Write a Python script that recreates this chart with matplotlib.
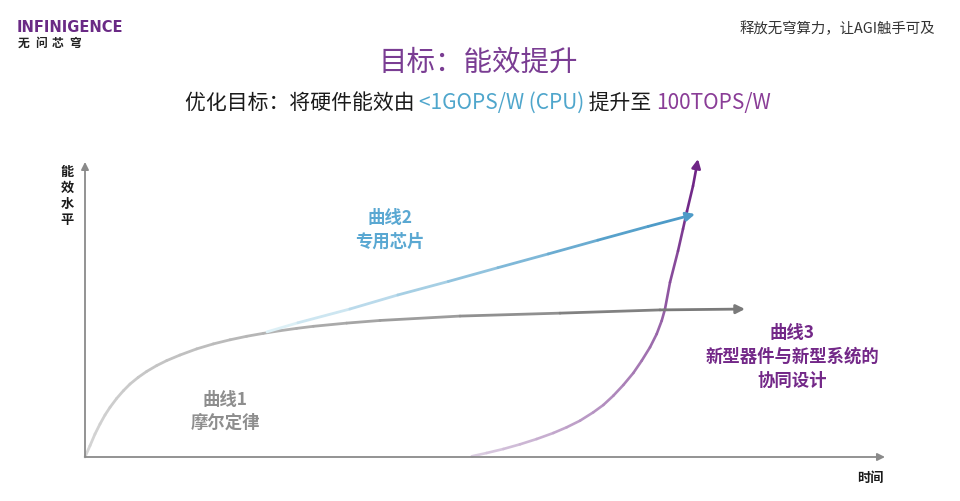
import numpy as np
import matplotlib
matplotlib.use('Agg')
import matplotlib.pyplot as plt
from matplotlib.collections import LineCollection
from matplotlib.colors import LinearSegmentedColormap

plt.rcParams['font.family'] = ['Noto Sans CJK SC', 'DejaVu Sans']

# curve readings (time 0..100, level 0..100)
moore_t = [0, 0.625, 1.25, 1.875, 2.5, 3.125, 3.96, 4.79, 5.625, 6.66, 7.71, 8.96,
           10.21, 11.875, 13.96, 16.04, 18.125, 20.21, 22.29, 24.375, 26.46, 28.54,
           32.71, 36.875, 46.875, 59.375, 71.875, 82.5]
moore_v = [0, 3.86, 7.85, 11.26, 14.33, 16.95, 20.0, 22.6, 24.9, 27.2, 29.2, 31.2,
           32.9, 34.8, 36.9, 38.6, 40.0, 41.2, 42.2, 43.1, 43.9, 44.6,
           45.7, 46.6, 48.1, 49.1, 50.2, 50.5]

asic_t = [22.75, 26.6, 33.1, 39.1, 45.4, 51.6, 57.9, 64.1, 70.4, 76.25]
asic_v = [42.7, 45.8, 50.5, 55.3, 59.9, 64.6, 69.3, 74.0, 78.7, 82.9]

codesign_t = [48.34, 50.21, 52.29, 54.375, 56.46, 58.54, 60.21, 61.875, 63.54, 64.79,
              66.04, 67.29, 68.54, 69.59, 70.625, 71.46, 72.09, 72.5, 73.125, 74.125,
              74.75, 75.25, 76.0, 76.625]
codesign_v = [0.24, 1.37, 2.73, 4.33, 6.14, 8.19, 10.14, 12.39, 15.26, 17.75,
              20.92, 24.57, 28.67, 32.87, 37.44, 41.98, 46.52, 50.51, 59.62, 70.31,
              77.82, 83.96, 92.49, 101.7]

labels = {
    'moore': ['曲线1', '摩尔定律'],
    'asic': ['曲线2', '专用芯片'],
    'codesign': ['曲线3', '新型器件与新型系统的', '协同设计'],
}

W, H = 960, 502
fig = plt.figure(figsize=(W / 100, H / 100), dpi=100)
fig.patch.set_facecolor('white')


def fp(x, y):
    # pixel position -> figure fraction
    return x / W, 1 - y / H


# chart axes
x0, x1, ytop, ybot = 85, 885, 165, 458
ax = fig.add_axes([x0 / W, 1 - ybot / H, (x1 - x0) / W, (ybot - ytop) / H])
ax.set_xlim(0, 100)
ax.set_ylim(0, 100)
ax.axis('off')

# axis arrows
for end in [(0, 100.7), (100, 0)]:
    ax.annotate('', xy=end, xytext=(0, 0), annotation_clip=False,
                arrowprops=dict(arrowstyle='-|>', color='#8a8a8a', lw=1.3,
                                mutation_scale=11, shrinkA=0, shrinkB=0))


def gradient_curve(t, v, c_start, c_end, lw):
    cmap = LinearSegmentedColormap.from_list('g', [c_start, c_end])
    pts = np.column_stack([t, v])
    segs = np.stack([pts[:-2], pts[1:-1]], axis=1)
    # colour by distance along the curve on screen
    disp = ax.transData.transform(pts[:-1])
    d = np.concatenate([[0], np.cumsum(np.hypot(*np.diff(disp, axis=0).T))])
    mid = (d[:-1] + d[1:]) / 2 / d[-1]
    lc = LineCollection(segs, colors=cmap(mid), linewidths=lw,
                        capstyle='round', joinstyle='round', clip_on=False)
    ax.add_collection(lc)
    ax.annotate('', xy=(t[-1], v[-1]), xytext=(t[-2], v[-2]), annotation_clip=False,
                arrowprops=dict(arrowstyle='-|>', color=c_end, lw=lw,
                                mutation_scale=13, shrinkA=0, shrinkB=0))


gradient_curve(moore_t, moore_v, '#d6d6d6', '#7a7a7a', 2.0)
gradient_curve(asic_t, asic_v, '#e3f3f8', '#4e9bc8', 2.0)
gradient_curve(codesign_t, codesign_v, '#dccfe2', '#6f2586', 1.9)

# header
fig.text(*fp(17, 27), 'INFINIGENCE', fontsize=10.5, fontweight='heavy',
         color='#6a2a85', family='DejaVu Sans', va='center', ha='left')
for i, ch in enumerate('无问芯穹'):
    fig.text(*fp(24 + i * 17, 43), ch, fontsize=8.5, fontweight='bold',
             color='#222222', va='center', ha='center')
fig.text(*fp(935, 29), '释放无穹算力，让AGI触手可及', fontsize=10.4,
         color='#333333', va='center', ha='right')

fig.text(*fp(478, 63), '目标：能效提升', fontsize=20.5, color='#7a3d93',
         va='center', ha='center')

# subtitle in coloured pieces
pieces = [('优化目标：将硬件能效由 ', '#1a1a1a'), ('<1GOPS/W (CPU)', '#4fa6cc'),
          (' 提升至 ', '#1a1a1a'), ('100TOPS/W', '#8a3d97')]
renderer = fig.canvas.get_renderer()
objs, widths = [], []
for s, c in pieces:
    t = fig.text(0, 0, s, fontsize=15, color=c, va='center', ha='left')
    objs.append(t)
    widths.append(t.get_window_extent(renderer).width)
xs = 478 - sum(widths) / 2
for t, w in zip(objs, widths):
    t.set_position(fp(xs, 103))
    xs += w

# axis titles
for i, ch in enumerate('能效水平'):
    fig.text(*fp(67, 172 + i * 16), ch, fontsize=9.5, fontweight='bold',
             color='#1a1a1a', va='center', ha='center')
fig.text(*fp(870, 478), '时间', fontsize=9.5, fontweight='bold',
         color='#1a1a1a', va='center', ha='center')

# curve labels
for i, s in enumerate(labels['asic']):
    fig.text(*fp(390, 218 + i * 24), s, fontsize=12.5, fontweight='bold',
             color='#5aa8d2', va='center', ha='center')
for i, s in enumerate(labels['moore']):
    fig.text(*fp(225, 400 + i * 23), s, fontsize=12.5, fontweight='bold',
             color='#8e8e8e', va='center', ha='center')
for i, s in enumerate(labels['codesign']):
    fig.text(*fp(792, 333 + i * 24), s, fontsize=12.5, fontweight='bold',
             color='#732888', va='center', ha='center')

fig.savefig('out.png', dpi=100, facecolor='white')
